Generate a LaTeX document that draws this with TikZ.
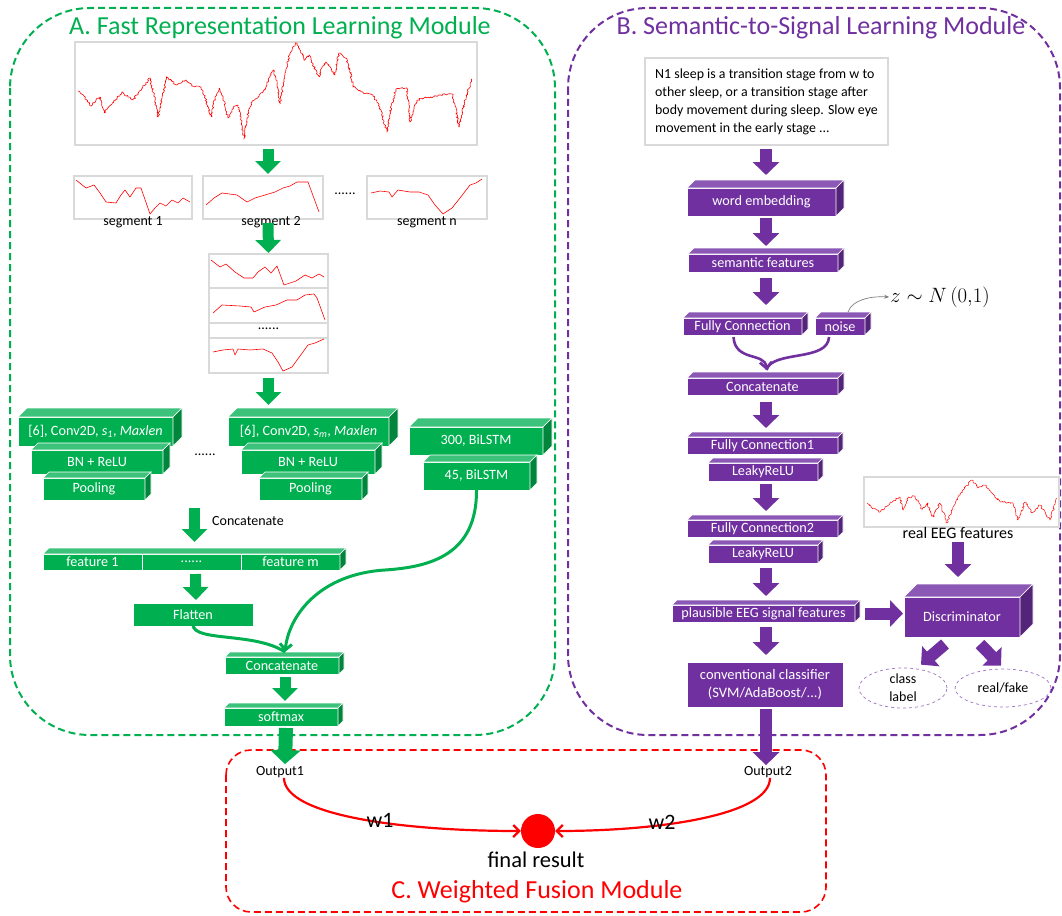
\documentclass[tikz,border=0pt]{standalone}
\usepackage{fontspec}
\setmainfont{Carlito}
\usetikzlibrary{arrows.meta,calc,shapes.geometric,decorations.pathmorphing}
\definecolor{gfront}{HTML}{00B050}
\definecolor{gtop}{HTML}{3CC27A}
\definecolor{gside}{HTML}{00853D}
\definecolor{pfront}{HTML}{7030A0}
\definecolor{ptop}{HTML}{8B59B5}
\definecolor{pside}{HTML}{54247A}
\definecolor{graybd}{HTML}{D9D9D9}
\definecolor{ellc}{HTML}{9D72C4}
\definecolor{zarrow}{HTML}{7F7F7F}

\newcommand{\tdbox}[8]{%
  \node[#1front, minimum width={(#5-#3)*1pt}, minimum height={(#6-#4)*1pt}] (#2) at ({(#3+#5)/2},{(#4+#6)/2}) {#8};
  \filldraw[#1top] (#2.north west) -- ++(#7pt,#7pt) -- ([shift={(#7pt,#7pt)}]#2.north east) -- (#2.north east) -- cycle;
  \filldraw[#1side] (#2.north east) -- ++(#7pt,#7pt) -- ([shift={(#7pt,#7pt)}]#2.south east) -- (#2.south east) -- cycle;
}

\tikzset{
  boxfont/.style={font=\fontsize{14.2}{16}\selectfont},
  gfront/.style={fill=gfront, draw=white, line width=0.6pt, text=white, inner sep=0pt, outer sep=0pt, boxfont},
  gtop/.style={fill=gtop, draw=white, line width=0.6pt},
  gside/.style={fill=gside, draw=white, line width=0.6pt},
  pfront/.style={fill=pfront, draw=white, line width=0.6pt, text=white, inner sep=0pt, outer sep=0pt, boxfont},
  ptop/.style={fill=ptop, draw=white, line width=0.6pt},
  pside/.style={fill=pside, draw=white, line width=0.6pt},
  sigbox/.style={draw=graybd, line width=1.6pt, fill=white, inner sep=0pt, outer sep=0pt},
  sig/.style={red, line width=0.6pt, line join=round},
  noisy/.style={decorate, decoration={random steps, segment length=1.3pt, amplitude=1pt}},
  lbl/.style={text=black, inner sep=1pt, font=\fontsize{14}{16}\selectfont},
  garrow/.style={draw=gfront, line width=11pt, -{Triangle[width=25pt,length=13pt]}},
  garrowbig/.style={draw=gfront, line width=14pt, -{Triangle[width=30pt,length=14pt]}},
  parrow/.style={draw=pfront, line width=12pt, -{Triangle[width=26pt,length=13pt]}},
  gcurve/.style={draw=gfront, line width=3pt, -{Straight Barb[length=6pt,width=12pt]}},
  pcurve/.style={draw=pfront, line width=2.6pt, -{Straight Barb[length=6pt,width=12pt]}},
  rcurve/.style={draw=red, line width=2.2pt, -{Straight Barb[length=6pt,width=12pt]}},
  module/.style={dashed, dash pattern=on 7pt off 4pt, line width=2pt, rounded corners=80pt},
  title/.style={inner sep=0pt, font=\fontsize{26}{30}\selectfont},
}

\begin{document}
\begin{tikzpicture}[x=1pt,y=-1pt]
\pgfmathsetseed{4242}
\useasboundingbox (0,0) rectangle (1062,915);
\fill[white] (0,0) rectangle (1062,915);

% ---------------- Module frames
\draw[module, draw=gfront] (10,8) rectangle (555,735);
\draw[module, draw=pfront] (568,8) rectangle (1060,735);
\draw[module, draw=red, rounded corners=25pt, line width=1.6pt] (226,750) rectangle (826,912);

\node[title, text=gfront] (titleA) at (280,28) {A. Fast Representation Learning Module};
\node[title, text=pfront] (titleB) at (821,28) {B. Semantic-to-Signal Learning Module};
\node[title, text=red] (titleC) at (537,892) {C. Weighted Fusion Module};

% ---------------- Module A
\node[sigbox, minimum width=402pt, minimum height=103pt] (eeg) at (276,93.5) {};
\draw[sig, noisy] plot coordinates {(78,91) (84,96) (91,106) (96,100) (100,97) (104,113) (112,104) (122,92) (128,97) (133,100) (142,88) (150,78) (154,95) (158,117) (162,98) (167,77) (176,85) (186,80) (193,86) (201,87) (206,100) (211,117) (215,98) (219,88) (223,98) (228,118) (233,108) (238,105) (241,118) (244,139) (247,118) (251,103) (258,97) (265,90) (270,75) (274,70) (277,85) (280,104) (285,75) (290,53) (296,43) (300,50) (305,60) (309,55) (313,65) (319,77) (322,68) (326,62) (331,68) (335,75) (337,62) (339,53) (346,58) (350,70) (353,87) (362,92) (373,95) (380,108) (387,132) (391,108) (396,89) (407,88) (410,122) (414,108) (418,100) (425,97) (430,98) (441,95) (452,94) (455,105) (459,127) (465,100) (472,79)};

\node[sigbox, minimum width=118pt, minimum height=43pt] (seg1) at (133,197.5) {};
\node[sigbox, minimum width=120pt, minimum height=43pt] (seg2) at (263,197.5) {};
\node[sigbox, minimum width=120pt, minimum height=43pt] (segn) at (427,197.5) {};
\draw[sig] plot coordinates {(76,180) (86,188) (94,185) (100,193) (106,202) (116,203) (121,195) (125,190) (130,197) (136,188) (141,188) (150,214) (155,208) (160,203) (166,206) (172,200) (178,203) (183,198) (190,202)};
\draw[sig] plot coordinates {(206,205) (214,198) (222,193) (237,195) (247,202) (255,198) (265,195) (275,192) (283,188) (290,186) (297,182) (308,182) (319,212)};
\draw[sig] plot coordinates {(371,193) (380,191) (389,192) (392,197) (398,190) (410,192) (419,192) (428,195) (435,205) (443,214) (452,208) (460,198) (470,185) (476,183) (482,179)};
\node[lbl] (segdots) at (345,194) {......};
\node[lbl] (seg1l) at (133,222) {segment 1};
\node[lbl] (seg2l) at (271,222) {segment 2};
\node[lbl] (segnl) at (427,222) {segment n};

% stack
\node[sigbox, minimum width=119pt, minimum height=34pt] (st1) at (268.5,271) {};
\node[sigbox, minimum width=119pt, minimum height=35pt] (st2) at (268.5,305.5) {};
\node[sigbox, minimum width=119pt, minimum height=15pt] (st3) at (268.5,330.5) {};
\node[sigbox, minimum width=119pt, minimum height=35pt] (st4) at (268.5,355.5) {};
\node[lbl] (stdots) at ([yshift=2pt]st3.center) {......};
\draw[sig] plot coordinates {(211,260) (220,267) (226,264) (235,272) (244,278) (253,278) (258,272) (265,267) (271,273) (277,266) (284,285) (290,283) (296,281) (305,275) (312,278) (319,274) (324,277)};
\draw[sig] plot coordinates {(213,313) (222,305) (240,306) (251,307) (254,312) (265,307) (276,305) (287,300) (297,300) (305,295) (314,294) (317,298) (325,320)};
\draw[sig] plot coordinates {(213,352) (223,350) (233,349) (235,355) (238,349) (250,350) (263,349) (272,353) (278,362) (283,371) (292,367) (300,356) (308,345) (315,343) (324,339)};

\draw[garrow] ([xshift=-8pt,yshift=-4pt]eeg.south) -- ([xshift=5pt,yshift=2pt]seg2.north);
\draw[garrow] ([xshift=5pt,yshift=-4pt]seg2.south) -- ([yshift=1pt]st1.north);

% conv blocks
\tdbox{g}{convL}{18}{417}{173}{446}{9}{[6], Conv2D, \textit{s\textsubscript{1}}, \textit{Maxlen}}
\tdbox{g}{bnL}{31}{450}{163}{474}{7}{BN + ReLU}
\tdbox{g}{poolL}{43}{478}{145}{500}{6}{Pooling}
\tdbox{g}{convR}{228}{417}{389}{446}{9}{[6], Conv2D, \textit{s\textsubscript{m}}, \textit{Maxlen}}
\tdbox{g}{bnR}{241}{450}{375}{474}{7}{BN + ReLU}
\tdbox{g}{poolR}{259}{478}{362}{500}{6}{Pooling}
\node[lbl] (convdots) at (205,455) {......};
\tdbox{g}{lstmA}{409}{427}{543}{455}{9}{300, BiLSTM}
\tdbox{g}{lstmB}{423}{462}{530}{490}{7}{45, BiLSTM}
\draw[garrow] ([yshift=-5pt]st4.south) -- ([xshift=-40pt,yshift=12pt]convR.north);

% feature bar
\node[gfront, minimum width=99pt, minimum height=16pt] (f1) at (92.5,562) {feature 1};
\node[gfront, minimum width=99pt, minimum height=16pt] (fdots) at (191.5,562) {......};
\node[gfront, minimum width=99pt, minimum height=16pt] (fm) at (290.5,562) {feature m};
\filldraw[gtop] (f1.north west) -- ++(6pt,6pt) -- ([shift={(6pt,6pt)}]fm.north east) -- (fm.north east) -- cycle;
\filldraw[gside] (fm.north east) -- ++(6pt,6pt) -- ([shift={(6pt,6pt)}]fm.south east) -- (fm.south east) -- cycle;
\draw[garrow] ([xshift=3pt,yshift=46pt]fdots.north) -- ([xshift=3pt,yshift=12pt]fdots.north);
\node[lbl, anchor=west] (catlbl) at (211,521) {Concatenate};

\node[gfront, minimum width=120pt, minimum height=23pt] (flat) at (193,614.5) {Flatten};
\draw[garrow] ([xshift=4pt,yshift=-4pt]fdots.south) -- ([xshift=3pt,yshift=3pt]flat.north);

\tdbox{g}{catA}{225}{657}{339}{674}{5}{Concatenate}
\tdbox{g}{soft}{224}{708}{338}{726}{5}{softmax}
\draw[gcurve] (lstmB.south) .. controls (477,555) and (430,567) .. (385,570) .. controls (320,574) and (289,615) .. ([xshift=3pt,yshift=5pt]catA.north);
\draw[draw=gfront, line width=3pt] ([yshift=1pt]flat.south) .. controls (194,642) and (255,632) .. ([xshift=3pt,yshift=5pt]catA.north);
\draw[garrow] ([xshift=3pt,yshift=-3pt]catA.south) -- ([xshift=4pt,yshift=7pt]soft.north);

% ---------------- Module B
\coordinate (bx) at (766,0);
\node[draw=graybd, line width=1.6pt, fill=white, inner xsep=3pt, inner ysep=0pt, align=left, minimum width=243pt, minimum height=87pt, font=\fontsize{13.9}{18}\selectfont] (txt) at (766.5,101.5) {N1 sleep is a transition stage from w to\\other sleep, or a transition stage after\\body movement during sleep. Slow eye\\movement in the early stage ...};
\tdbox{p}{wemb}{687}{188}{836}{216}{8}{word embedding}
\tdbox{p}{semf}{688}{254}{838}{272}{6}{semantic features}
\tdbox{p}{fc}{683}{318}{802}{335}{6}{Fully Connection}
\tdbox{p}{noise}{815}{318}{865}{335}{6}{noise}
\tdbox{p}{catB}{687}{378}{838}{395}{6}{Concatenate}
\tdbox{p}{fca}{687}{437}{838}{454}{5}{Fully Connection1}
\tdbox{p}{lka}{708}{463}{818}{481}{5}{LeakyReLU}
\tdbox{p}{fcb}{687}{520}{838}{537}{5}{Fully Connection2}
\tdbox{p}{lkb}{708}{545}{818}{563}{5}{LeakyReLU}
\tdbox{p}{plaus}{672}{605}{855}{622}{5}{plausible EEG signal features}
\node[pfront, minimum width=156pt, minimum height=45pt, align=center, font=\fontsize{14.5}{18}\selectfont] (cls) at (765,684.5) {conventional classifier\\(SVM/AdaBoost/...)};
\tdbox{p}{disc}{904}{597}{1020}{637}{13}{Discriminator}

\draw[parrow] ($(txt.south-|bx)+(0,3)$) -- ($(wemb.north-|bx)+(0,-13)$);
\draw[parrow] ($(wemb.south-|bx)+(0,2)$) -- ($(semf.north-|bx)+(0,-8)$);
\draw[parrow] ($(semf.south-|bx)+(0,6)$) -- ($(fc.north-|bx)+(0,-13)$);
\draw[parrow] ($(catB.south-|bx)+(0,7)$) -- ($(fca.north-|bx)+(0,-9)$);
\draw[parrow] ($(lka.south-|bx)+(0,3)$) -- ($(fcb.north-|bx)+(0,-9)$);
\draw[parrow] ($(lkb.south-|bx)+(0,5)$) -- ($(plaus.north-|bx)+(0,-9)$);
\draw[parrow] ($(plaus.south-|bx)+(0,5)$) -- ($(cls.north-|bx)+(0,-7)$);

\draw[pcurve] ($(fc.south)+(-9,2)$) .. controls (735,362) and (765,352) .. ($(catB.north)+(4,-8)$);
\draw[draw=pfront, line width=2.6pt] ($(noise.south)+(-11,2)$) .. controls (828,362) and (772,350) .. ($(catB.north)+(4,-8)$);

\node[inner sep=1pt, font=\fontsize{21}{24}\selectfont] (znode) at (940,297) {$z \sim N\,(0{,}1)$};
\draw[draw=zarrow, line width=0.7pt, -{Stealth[length=5pt,width=4pt]}] ($(noise.north)+(8,-6)$) .. controls (852,300) and (870,296) .. (znode.west);

% real EEG
\node[sigbox, minimum width=195pt, minimum height=50pt] (real) at (961.5,502) {};
\draw[sig, line width=0.5pt, noisy] plot coordinates {(867,503) (872,508) (880,512) (890,503) (900,497) (903,510) (908,498) (915,496) (922,510) (927,503) (933,517) (940,503) (947,523) (953,507) (960,495) (965,488) (972,480) (978,488) (985,485) (992,493) (1000,502) (1013,503) (1018,520) (1025,502) (1032,513) (1040,505) (1050,520) (1057,498)};
\node[lbl, font=\fontsize{16}{18}\selectfont] (reallbl) at (958,533) {real EEG features};
\draw[parrow] ($(reallbl.south)+(0,2)$) -- ($(disc.north)+(-4,-20)$);
\draw[parrow] ($(plaus.east)+(10,0)$) -- ($(disc.west|-plaus.east)+(-1,0)$);

\node[ellipse, draw=ellc, dashed, line width=0.7pt, minimum width=88pt, minimum height=40pt, inner sep=0pt, align=center, font=\fontsize{14}{18}\selectfont] (clsl) at (903,688) {class\\label};
\node[ellipse, draw=ellc, dashed, line width=0.7pt, minimum width=96pt, minimum height=38pt, inner sep=0pt, font=\fontsize{14}{16}\selectfont] (rf) at (1003,688) {real/fake};
\draw[parrow] ($(disc.south)+(-17,7)$) -- ($(clsl.north)+(18,-3)$);
\draw[parrow] ($(disc.south)+(18,7)$) -- ($(rf.north)+(-2,-3)$);

% ---------------- Module C
\node[inner sep=1pt, font=\fontsize{14}{16}\selectfont] (out1) at (280,772) {Output1};
\node[inner sep=1pt, font=\fontsize{14}{16}\selectfont] (out2) at (768,772) {Output2};
\draw[garrowbig] ([xshift=5pt,yshift=-2pt]soft.south) -- ([xshift=5pt,yshift=1pt]out1.north);
\draw[parrow] ($(cls.south-|bx)+(0,2)$) -- ($(out2.north-|bx)+(0,0)$);

\node[circle, fill=red, minimum size=34pt, inner sep=0pt] (res) at (538,831) {};
\draw[rcurve] ([xshift=4pt,yshift=1pt]out1.south) .. controls (284,815) and (400,831) .. (res.west);
\draw[rcurve] ([xshift=2pt,yshift=1pt]out2.south) .. controls (770,815) and (660,831) .. (res.east);
\node[inner sep=0pt, font=\fontsize{22}{24}\selectfont] (w1) at (380,820) {w1};
\node[inner sep=0pt, font=\fontsize{22}{24}\selectfont] (w2) at (662,822) {w2};
\node[inner sep=0pt, font=\fontsize{22.5}{24}\selectfont] (resl) at (536,860) {final result};
\end{tikzpicture}
\end{document}
